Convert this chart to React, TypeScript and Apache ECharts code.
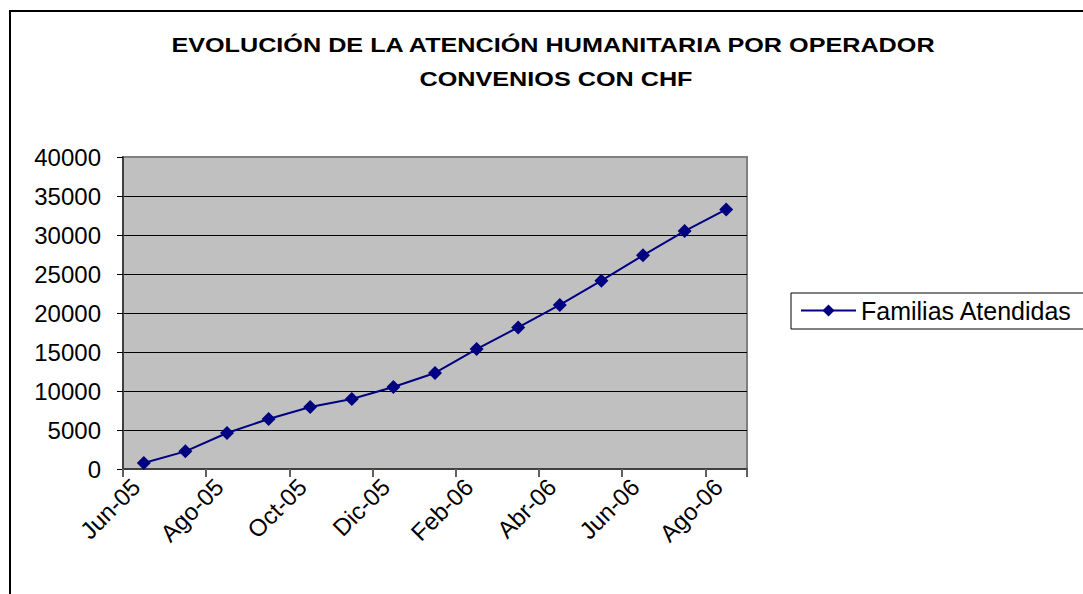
import React, { useEffect, useRef } from "react";
import * as echarts from "echarts";

const months = [
  "Jun-05", "Jul-05", "Ago-05", "Sep-05", "Oct-05", "Nov-05", "Dic-05",
  "Ene-06", "Feb-06", "Mar-06", "Abr-06", "May-06", "Jun-06", "Jul-06", "Ago-06",
];
const familiasAtendidas = [
  770, 2260, 4620, 6410, 7950, 8970, 10510, 12310, 15380, 18150, 21030, 24140,
  27390, 30510, 33280,
];
const titleLines = [
  "EVOLUCIÓN DE LA ATENCIÓN HUMANITARIA POR OPERADOR",
  "CONVENIOS CON CHF",
];
const seriesName = "Familias Atendidas";

const FONT = "'Liberation Sans', Arial, sans-serif";

export default function App() {
  const ref = useRef<HTMLDivElement>(null);
  useEffect(() => {
    if (!ref.current) return;
    const chart = echarts.init(ref.current, null, { renderer: "svg" });
    chart.setOption({
      animation: false,
      backgroundColor: "#ffffff",
      textStyle: { fontFamily: FONT },
      graphic: [
        {
          type: "rect",
          shape: { x: 10, y: 11, width: 1100, height: 620 },
          style: { fill: "none", stroke: "#000", lineWidth: 2 },
          silent: true,
        },
        {
          type: "text",
          x: 553,
          y: 45,
          scaleX: 1.2,
          style: {
            text: titleLines[0],
            font: `bold 21px ${FONT}`,
            fill: "#000",
            align: "center",
            verticalAlign: "middle",
          },
        },
        {
          type: "text",
          x: 556,
          y: 79,
          scaleX: 1.2,
          style: {
            text: titleLines[1],
            font: `bold 21px ${FONT}`,
            fill: "#000",
            align: "center",
            verticalAlign: "middle",
          },
        },
      ],
      legend: {
        left: 791,
        top: 293,
        orient: "vertical",
        data: [seriesName],
        borderColor: "#000",
        borderWidth: 1,
        padding: [5, 30, 6, 9],
        itemWidth: 55,
        itemHeight: 15,
        textStyle: { fontSize: 25, color: "#000", fontFamily: FONT },
      },
      grid: {
        left: 123,
        top: 157,
        width: 624,
        height: 312,
        show: true,
        backgroundColor: "#C0C0C0",
        borderColor: "#808080",
        borderWidth: 2,
        containLabel: false,
      },
      xAxis: {
        type: "category",
        data: months,
        boundaryGap: true,
        axisLine: { show: true, lineStyle: { color: "#404040", width: 2 } },
        axisTick: {
          show: true,
          interval: 1,
          length: 8,
          lineStyle: { color: "#606060", width: 2 },
        },
        axisLabel: {
          interval: 1,
          rotate: 45,
          margin: 6,
          padding: [0, 11, 0, 0],
          fontSize: 24,
          color: "#000",
          fontFamily: FONT,
        },
        splitLine: { show: false },
      },
      yAxis: {
        type: "value",
        min: 0,
        max: 40000,
        interval: 5000,
        axisLine: { show: true, lineStyle: { color: "#404040", width: 2 } },
        axisTick: {
          show: true,
          length: 6,
          lineStyle: { color: "#000", width: 1 },
        },
        axisLabel: {
          margin: 22,
          fontSize: 24,
          color: "#000",
          fontFamily: FONT,
          formatter: (v: number) => String(v),
        },
        splitLine: {
          show: true,
          showMinLine: false,
          showMaxLine: false,
          lineStyle: { color: "#000", width: 1 },
        },
      },
      series: [
        {
          name: seriesName,
          type: "line",
          data: familiasAtendidas,
          symbol: "diamond",
          symbolSize: 14,
          showSymbol: true,
          lineStyle: { color: "#000080", width: 2 },
          itemStyle: { color: "#000080" },
        },
      ],
    });
    return () => chart.dispose();
  }, []);
  return (
    <div
      ref={ref}
      style={{ position: "absolute", left: 0, top: 0, width: 1083, height: 594 }}
    />
  );
}
